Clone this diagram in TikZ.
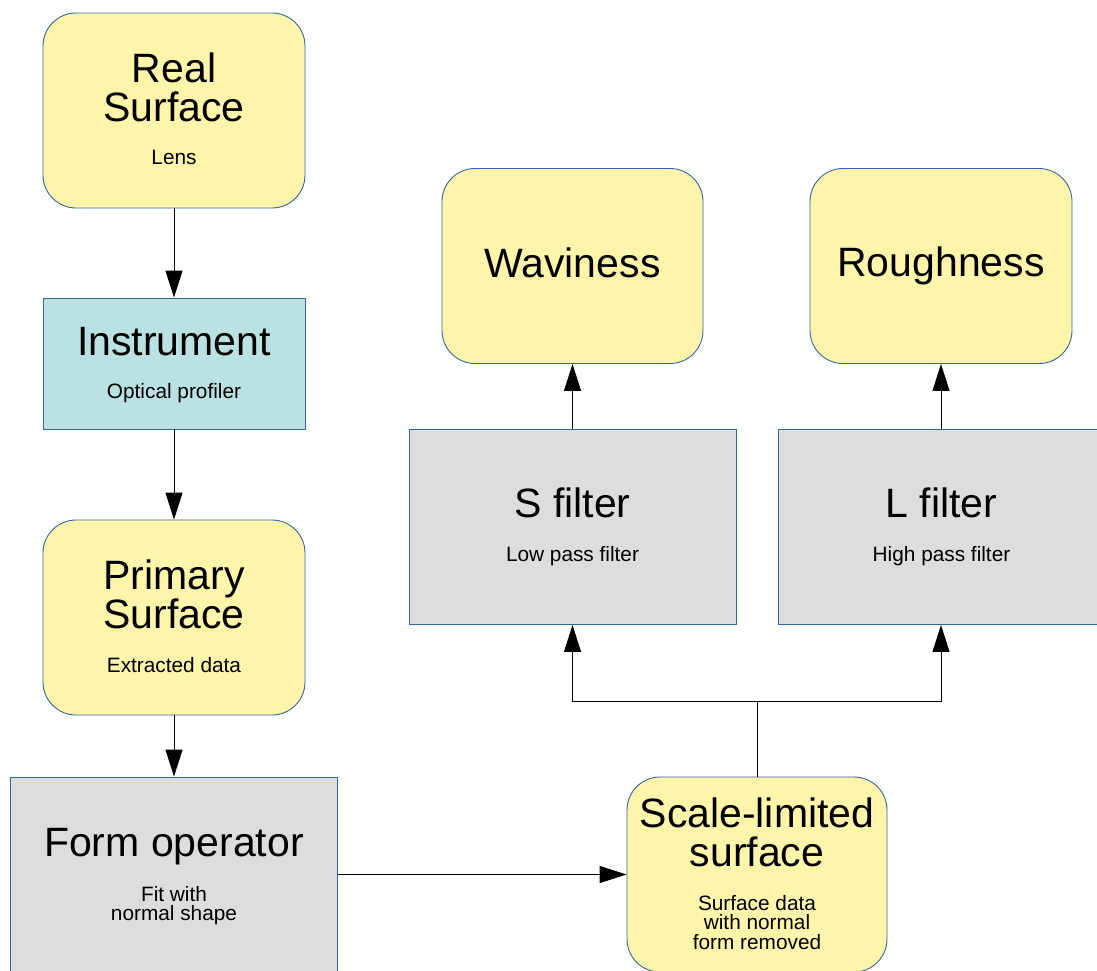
\documentclass[tikz,border=0pt]{standalone}
\usepackage{fontspec}
\setmainfont{Liberation Sans}
\usetikzlibrary{arrows.meta}
\definecolor{boxyellow}{HTML}{FFF5AA}
\definecolor{boxteal}{HTML}{BAE2E3}
\definecolor{boxgray}{HTML}{DDDDDD}
\definecolor{boxline}{HTML}{3465A4}

\begin{document}
\begin{tikzpicture}[x=1pt,y=-1pt,
	box/.style={draw=boxline, line width=0.9pt, minimum width=262pt, minimum height=195pt, inner sep=0pt},
	surf/.style={box, rounded corners=33pt, fill=boxyellow},
	instr/.style={box, fill=boxteal, minimum height=131pt},
	oper/.style={box, fill=boxgray, minimum width=327pt},
	ttl/.style={font=\fontsize{41}{38.5}\selectfont, align=center, inner sep=0pt},
	sub/.style={font=\fontsize{20.8}{19.5}\selectfont, align=center, inner sep=0pt},
	arr/.style={-{Triangle[length=27pt,width=17pt]}, line width=1pt}]
	\useasboundingbox (0,0) rectangle (1097,970);
	\clip (0,0) rectangle (1097,970);

	\node[surf] (real) at (174,110.5) {};
	\node[ttl] (realT) at ([yshift=23pt]real.center) {Real\\Surface};
	\node[sub] (realS) at ([yshift=-47pt]real.center) {Lens};

	\node[instr] (instr) at (174,363.5) {};
	\node[ttl] (instrT) at ([yshift=22pt]instr.center) {Instrument};
	\node[sub] (instrS) at ([yshift=-30pt]instr.center) {Optical profiler};

	\node[surf] (prim) at (174,617.5) {};
	\node[ttl] (primT) at ([yshift=23pt]prim.center) {Primary\\Surface};
	\node[sub] (primS) at ([yshift=-48pt]prim.center) {Extracted data};

	\node[oper] (form) at (174,874.5) {};
	\node[ttl] (formT) at ([yshift=28pt]form.center) {Form operator};
	\node[sub] (formS) at ([yshift=-31pt]form.center) {Fit with\\normal shape};

	\node[surf, minimum width=260pt] (scale) at (757,874.5) {};
	\node[ttl] (scaleT) at ([yshift=42pt]scale.center) {Scale-limited\\surface};
	\node[sub] (scaleS) at ([yshift=-48pt]scale.center) {Surface data\\with normal\\form removed};

	\node[oper] (sfilt) at (572.5,527) {};
	\node[ttl] (sfiltT) at ([yshift=24pt]sfilt.center) {S filter};
	\node[sub] (sfiltS) at ([yshift=-29pt]sfilt.center) {Low pass filter};

	\node[oper] (lfilt) at (941.5,527) {};
	\node[ttl] (lfiltT) at ([yshift=24pt]lfilt.center) {L filter};
	\node[sub] (lfiltS) at ([yshift=-29pt]lfilt.center) {High pass filter};

	\node[surf, minimum width=261pt] (wav) at (572.5,266) {};
	\node[ttl] (wavT) at ([yshift=3pt]wav.center) {Waviness};

	\node[surf] (rough) at (941,266) {};
	\node[ttl] (roughT) at ([yshift=0pt]rough.center) {Roughness};

	\draw[arr] (real) -- (instr);
	\draw[arr] (instr) -- (prim);
	\draw[arr] (prim) -- (form);
	\draw[arr] (form) -- (scale);

	\coordinate (fork) at (757,701);
	\draw[line width=1pt] (scale) -- (fork);
	\draw[arr] (fork) -| (sfilt.south);
	\draw[arr] (fork) -| (lfilt.south -| rough.south);
	\draw[arr] (sfilt) -- (wav);
	\draw[arr] (lfilt.north -| rough.south) -- (rough);
\end{tikzpicture}
\end{document}
